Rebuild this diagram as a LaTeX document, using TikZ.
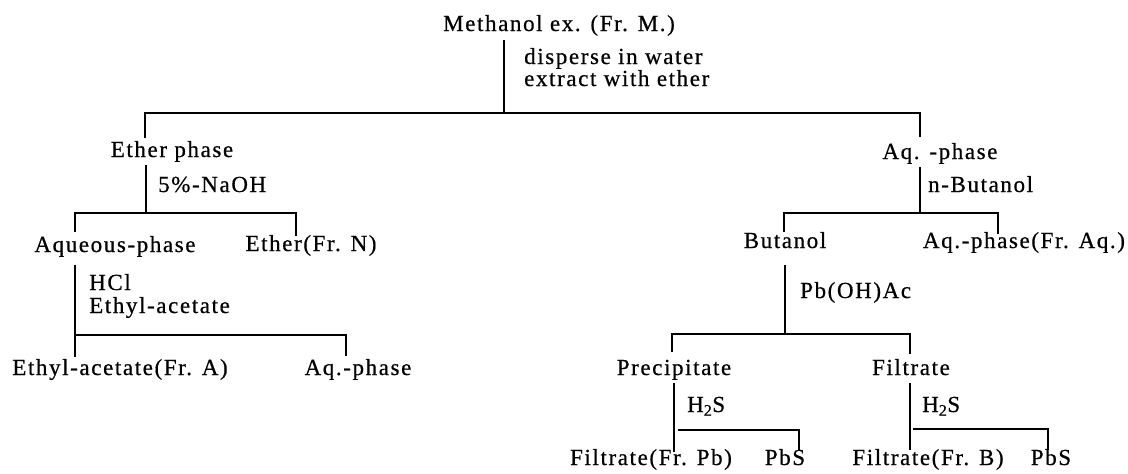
\documentclass[tikz,border=0pt]{standalone}
\usepackage{fontspec}
\setmainfont{Liberation Serif}[LetterSpace=7,FakeBold=0.6]
\begin{document}
\begin{tikzpicture}[x=1pt,y=-1pt,
  lbl/.style={anchor=base,inner sep=0pt,font=\fontsize{23}{24}\selectfont},
  note/.style={anchor=base west,inner sep=0pt,font=\fontsize{23}{24}\selectfont},
  ln/.style={line width=1.3pt,line cap=butt}]
\useasboundingbox (0,0) rectangle (1128,474);
% texts
\node[lbl] (M) at (559,31) {Methanol ex. (Fr. M.)};
\node[note] (c1a) at (524,64) {disperse in water};
\node[note] (c1b) at (524,86) {extract with ether};
\node[lbl] (E) at (172,157) {Ether phase};
\node[note] (c2) at (158,192) {5\%-NaOH};
\node[lbl] (AQ1) at (115,252) {Aqueous-phase};
\node[lbl] (N) at (311,251) {Ether(Fr. N)};
\node[note] (c3a) at (89,290) {HCl};
\node[note] (c3b) at (89,313) {Ethyl-acetate};
\node[lbl] (A) at (120,375) {Ethyl-acetate(Fr. A)};
\node[lbl] (AQ2) at (358,375) {Aq.-phase};
\node[lbl] (AQ) at (940,159) {Aq. -phase};
\node[note] (c4) at (928,192) {n-Butanol};
\node[lbl] (B) at (785,248) {Butanol};
\node[lbl] (FAQ) at (1024,248) {Aq.-phase(Fr. Aq.)};
\node[note] (c5) at (800,298) {Pb(OH)Ac};
\node[lbl] (P) at (674,375) {Precipitate};
\node[lbl] (F) at (911,375) {Filtrate};
\node[note] (c6) at (687,412) {H\textsubscript{2}S};
\node[lbl] (FPB) at (651,465) {Filtrate(Fr. Pb)};
\node[lbl] (PBS1) at (785,465) {PbS};
\node[note] (c7) at (922,412) {H\textsubscript{2}S};
\node[lbl] (FB) at (928,465) {Filtrate(Fr. B)};
\node[lbl] (PBS2) at (1051,465) {PbS};
% junction coordinates
\coordinate (m0) at (504,40);   \coordinate (m1) at (504,113);
\coordinate (h1L) at (145,113); \coordinate (h1R) at (920,113);
\coordinate (t1L) at (145,138); \coordinate (t1R) at (920,137);
\coordinate (e0) at (146,165);  \coordinate (e1) at (146,213);
\coordinate (h2L) at (75,213);  \coordinate (h2R) at (296,213);
\coordinate (t2L) at (75,232);  \coordinate (t2R) at (296,236);
\coordinate (a0) at (75,265);   \coordinate (a1) at (75,357);
\coordinate (h3L) at (75,335);  \coordinate (h3R) at (346,335);
\coordinate (t3R) at (346,356);
\coordinate (q0) at (920,167);  \coordinate (q1) at (920,213);
\coordinate (h4L) at (784,213); \coordinate (h4R) at (998,213);
\coordinate (t4L) at (784,232); \coordinate (t4R) at (998,234);
\coordinate (b0) at (785,265);  \coordinate (b1) at (785,334);
\coordinate (h5L) at (672,334); \coordinate (h5R) at (910,334);
\coordinate (t5L) at (672,352); \coordinate (t5R) at (910,354);
\coordinate (p0) at (674,383);  \coordinate (p1) at (674,452);
\coordinate (h6L) at (678,430); \coordinate (h6R) at (799,430);
\coordinate (t6R) at (799,450);
\coordinate (f0) at (910,383);  \coordinate (f1) at (910,450);
\coordinate (h7L) at (913,429); \coordinate (h7R) at (1048,429);
\coordinate (t7R) at (1048,450);
% connectors
\draw[ln] (m0) -- (m1);
\draw[ln] (t1L) -- (h1L) -- (h1R) -- (t1R);
\draw[ln] (e0) -- (e1);
\draw[ln] (t2L) -- (h2L) -- (h2R) -- (t2R);
\draw[ln] (a0) -- (a1);
\draw[ln] (h3L) -- (h3R) -- (t3R);
\draw[ln] (q0) -- (q1);
\draw[ln] (t4L) -- (h4L) -- (h4R) -- (t4R);
\draw[ln] (b0) -- (b1);
\draw[ln] (t5L) -- (h5L) -- (h5R) -- (t5R);
\draw[ln] (p0) -- (p1);
\draw[ln] (h6L) -- (h6R) -- (t6R);
\draw[ln] (f0) -- (f1);
\draw[ln] (h7L) -- (h7R) -- (t7R);
\end{tikzpicture}
\end{document}
